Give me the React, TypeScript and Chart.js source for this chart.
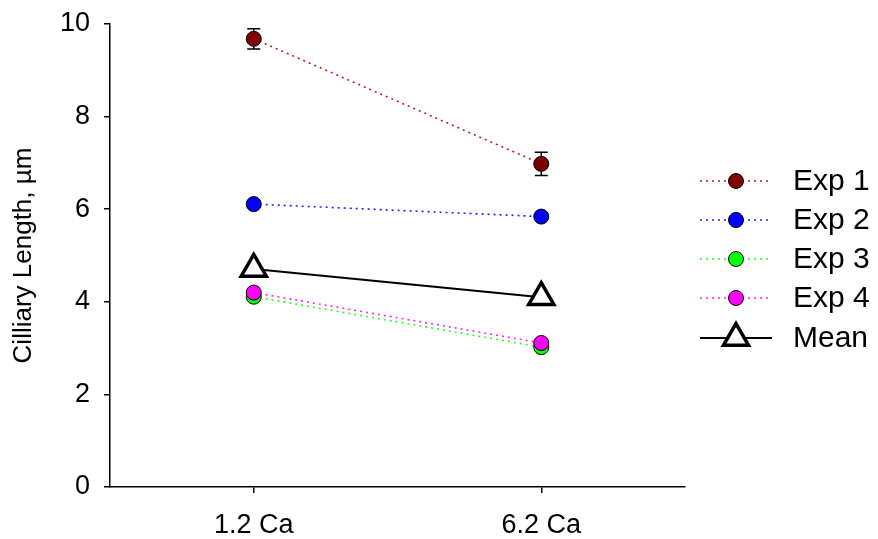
import React, { useEffect, useRef } from 'react';
import { Chart, registerables } from 'chart.js';

Chart.register(...registerables);

const categories = ['1.2 Ca', '6.2 Ca'];
const seriesNames = ['Exp 1', 'Exp 2', 'Exp 3', 'Exp 4', 'Mean'];
const exp1 = [9.68, 6.98];
const exp1Err = [0.22, 0.25];
const exp2 = [6.11, 5.84];
const exp3 = [4.11, 3.02];
const exp4 = [4.2, 3.11];
const meanVals = [4.71, 4.1];
const yMin = 0;
const yMax = 10;
const yStep = 2;

const FONT = "'Liberation Sans', Arial, sans-serif";

const pointColors = ['#800000', '#0000ff', '#00ff00', '#ff00ff', '#ffffff'];
const lineColors = ['#b02020', '#2020ff', '#20ff20', '#ff20ff', '#000000'];

const errorBarPlugin = {
  id: 'errorBars',
  beforeDatasetsDraw(chart: any) {
    const ctx = chart.ctx;
    const meta = chart.getDatasetMeta(0);
    const y = chart.scales.y;
    ctx.save();
    ctx.strokeStyle = '#000';
    ctx.lineWidth = 1.5;
    exp1.forEach((v, i) => {
      const pt = meta.data[i];
      if (!pt) return;
      const x = pt.x;
      const top = y.getPixelForValue(v + exp1Err[i]);
      const bot = y.getPixelForValue(v - exp1Err[i]);
      ctx.beginPath();
      ctx.moveTo(x, top);
      ctx.lineTo(x, bot);
      ctx.moveTo(x - 6.5, top);
      ctx.lineTo(x + 6.5, top);
      ctx.moveTo(x - 6.5, bot);
      ctx.lineTo(x + 6.5, bot);
      ctx.stroke();
    });
    ctx.restore();
  },
};

const legendPlugin = {
  id: 'customLegend',
  afterDraw(chart: any) {
    const ctx = chart.ctx;
    const rowYs = [181, 220, 259, 298, 338];
    const x0 = 700;
    const x1 = 772;
    const xm = 736;
    const tx = 793;
    ctx.save();
    chart.data.datasets.forEach((ds: any, i: number) => {
      const yy = rowYs[i];
      ctx.beginPath();
      ctx.strokeStyle = ds.borderColor;
      ctx.lineWidth = ds.borderWidth;
      ctx.setLineDash(ds.borderDash || []);
      ctx.moveTo(x0, yy);
      ctx.lineTo(x1, yy);
      ctx.stroke();
      ctx.setLineDash([]);
      ctx.fillStyle = ds.pointBackgroundColor;
      ctx.strokeStyle = ds.pointBorderColor;
      ctx.lineWidth = ds.pointBorderWidth;
      ctx.beginPath();
      if (ds.pointStyle === 'triangle') {
        const r = ds.pointRadius;
        const a = (2 * Math.PI) / 3;
        ctx.moveTo(xm, yy - r);
        ctx.lineTo(xm + Math.sin(a) * r, yy - Math.cos(a) * r);
        ctx.lineTo(xm + Math.sin(2 * a) * r, yy - Math.cos(2 * a) * r);
        ctx.closePath();
      } else {
        ctx.arc(xm, yy, ds.pointRadius, 0, Math.PI * 2);
      }
      ctx.fill();
      ctx.stroke();
      ctx.fillStyle = '#000';
      ctx.font = `30px ${FONT}`;
      ctx.textBaseline = 'middle';
      ctx.textAlign = 'left';
      ctx.fillText(ds.label, tx, yy + 1);
    });
    ctx.restore();
  },
};

export default function App() {
  const ref = useRef<HTMLCanvasElement | null>(null);

  useEffect(() => {
    if (!ref.current) return;
    const values = [exp1, exp2, exp3, exp4, meanVals];
    const datasets = values.map((vals, i) => {
      const isMean = i === 4;
      return {
        label: seriesNames[i],
        data: vals,
        borderColor: lineColors[i],
        borderWidth: isMean ? 2 : 1.6,
        borderDash: isMean ? [] : [2, 4],
        pointStyle: isMean ? 'triangle' : 'circle',
        pointRadius: isMean ? 14.5 : 7.5,
        pointHoverRadius: isMean ? 14.5 : 7.5,
        pointBackgroundColor: pointColors[i],
        pointBorderColor: '#000',
        pointBorderWidth: isMean ? 3.5 : 1,
        fill: false,
        tension: 0,
        clip: false as any,
        order: 5 - i,
      };
    });

    const chart = new Chart(ref.current, {
      type: 'line',
      data: { labels: categories, datasets: datasets as any },
      plugins: [errorBarPlugin, legendPlugin],
      options: {
        responsive: false,
        animation: false,
        layout: { padding: { top: 24, right: 193, left: 0, bottom: 0 } },
        plugins: {
          legend: { display: false },
          tooltip: { enabled: false },
        },
        scales: {
          x: {
            type: 'category',
            offset: true,
            afterFit: (s: any) => {
              s.height = 52;
              s.paddingLeft = 0;
              s.paddingRight = 0;
            },
            grid: {
              drawOnChartArea: false,
              drawTicks: true,
              tickLength: 6,
              color: '#000',
              lineWidth: 1.5,
              offset: false,
            },
            border: { display: true, color: '#000', width: 1.5 },
            ticks: {
              color: '#000',
              font: { family: FONT, size: 27 },
              padding: 16,
              maxRotation: 0,
            },
          },
          y: {
            type: 'linear',
            min: yMin,
            max: yMax,
            afterFit: (s: any) => {
              s.width = 110;
              s.paddingTop = 0;
              s.paddingBottom = 0;
            },
            grid: {
              drawOnChartArea: false,
              drawTicks: true,
              tickLength: 6,
              color: '#000',
              lineWidth: 1.5,
            },
            border: { display: true, color: '#000', width: 1.5 },
            ticks: {
              stepSize: yStep,
              color: '#000',
              font: { family: FONT, size: 27 },
              padding: 14,
            },
            title: {
              display: true,
              text: 'Cilliary Length, µm',
              color: '#000',
              font: { family: FONT, size: 26 },
              padding: { top: 8, bottom: 0 },
            },
          },
        },
      },
    });
    return () => chart.destroy();
  }, []);

  return (
    <div style={{ position: 'absolute', left: 0, top: 0, width: 878, height: 539, background: '#fff' }}>
      <canvas ref={ref} width={878} height={539} style={{ display: 'block' }} />
    </div>
  );
}
